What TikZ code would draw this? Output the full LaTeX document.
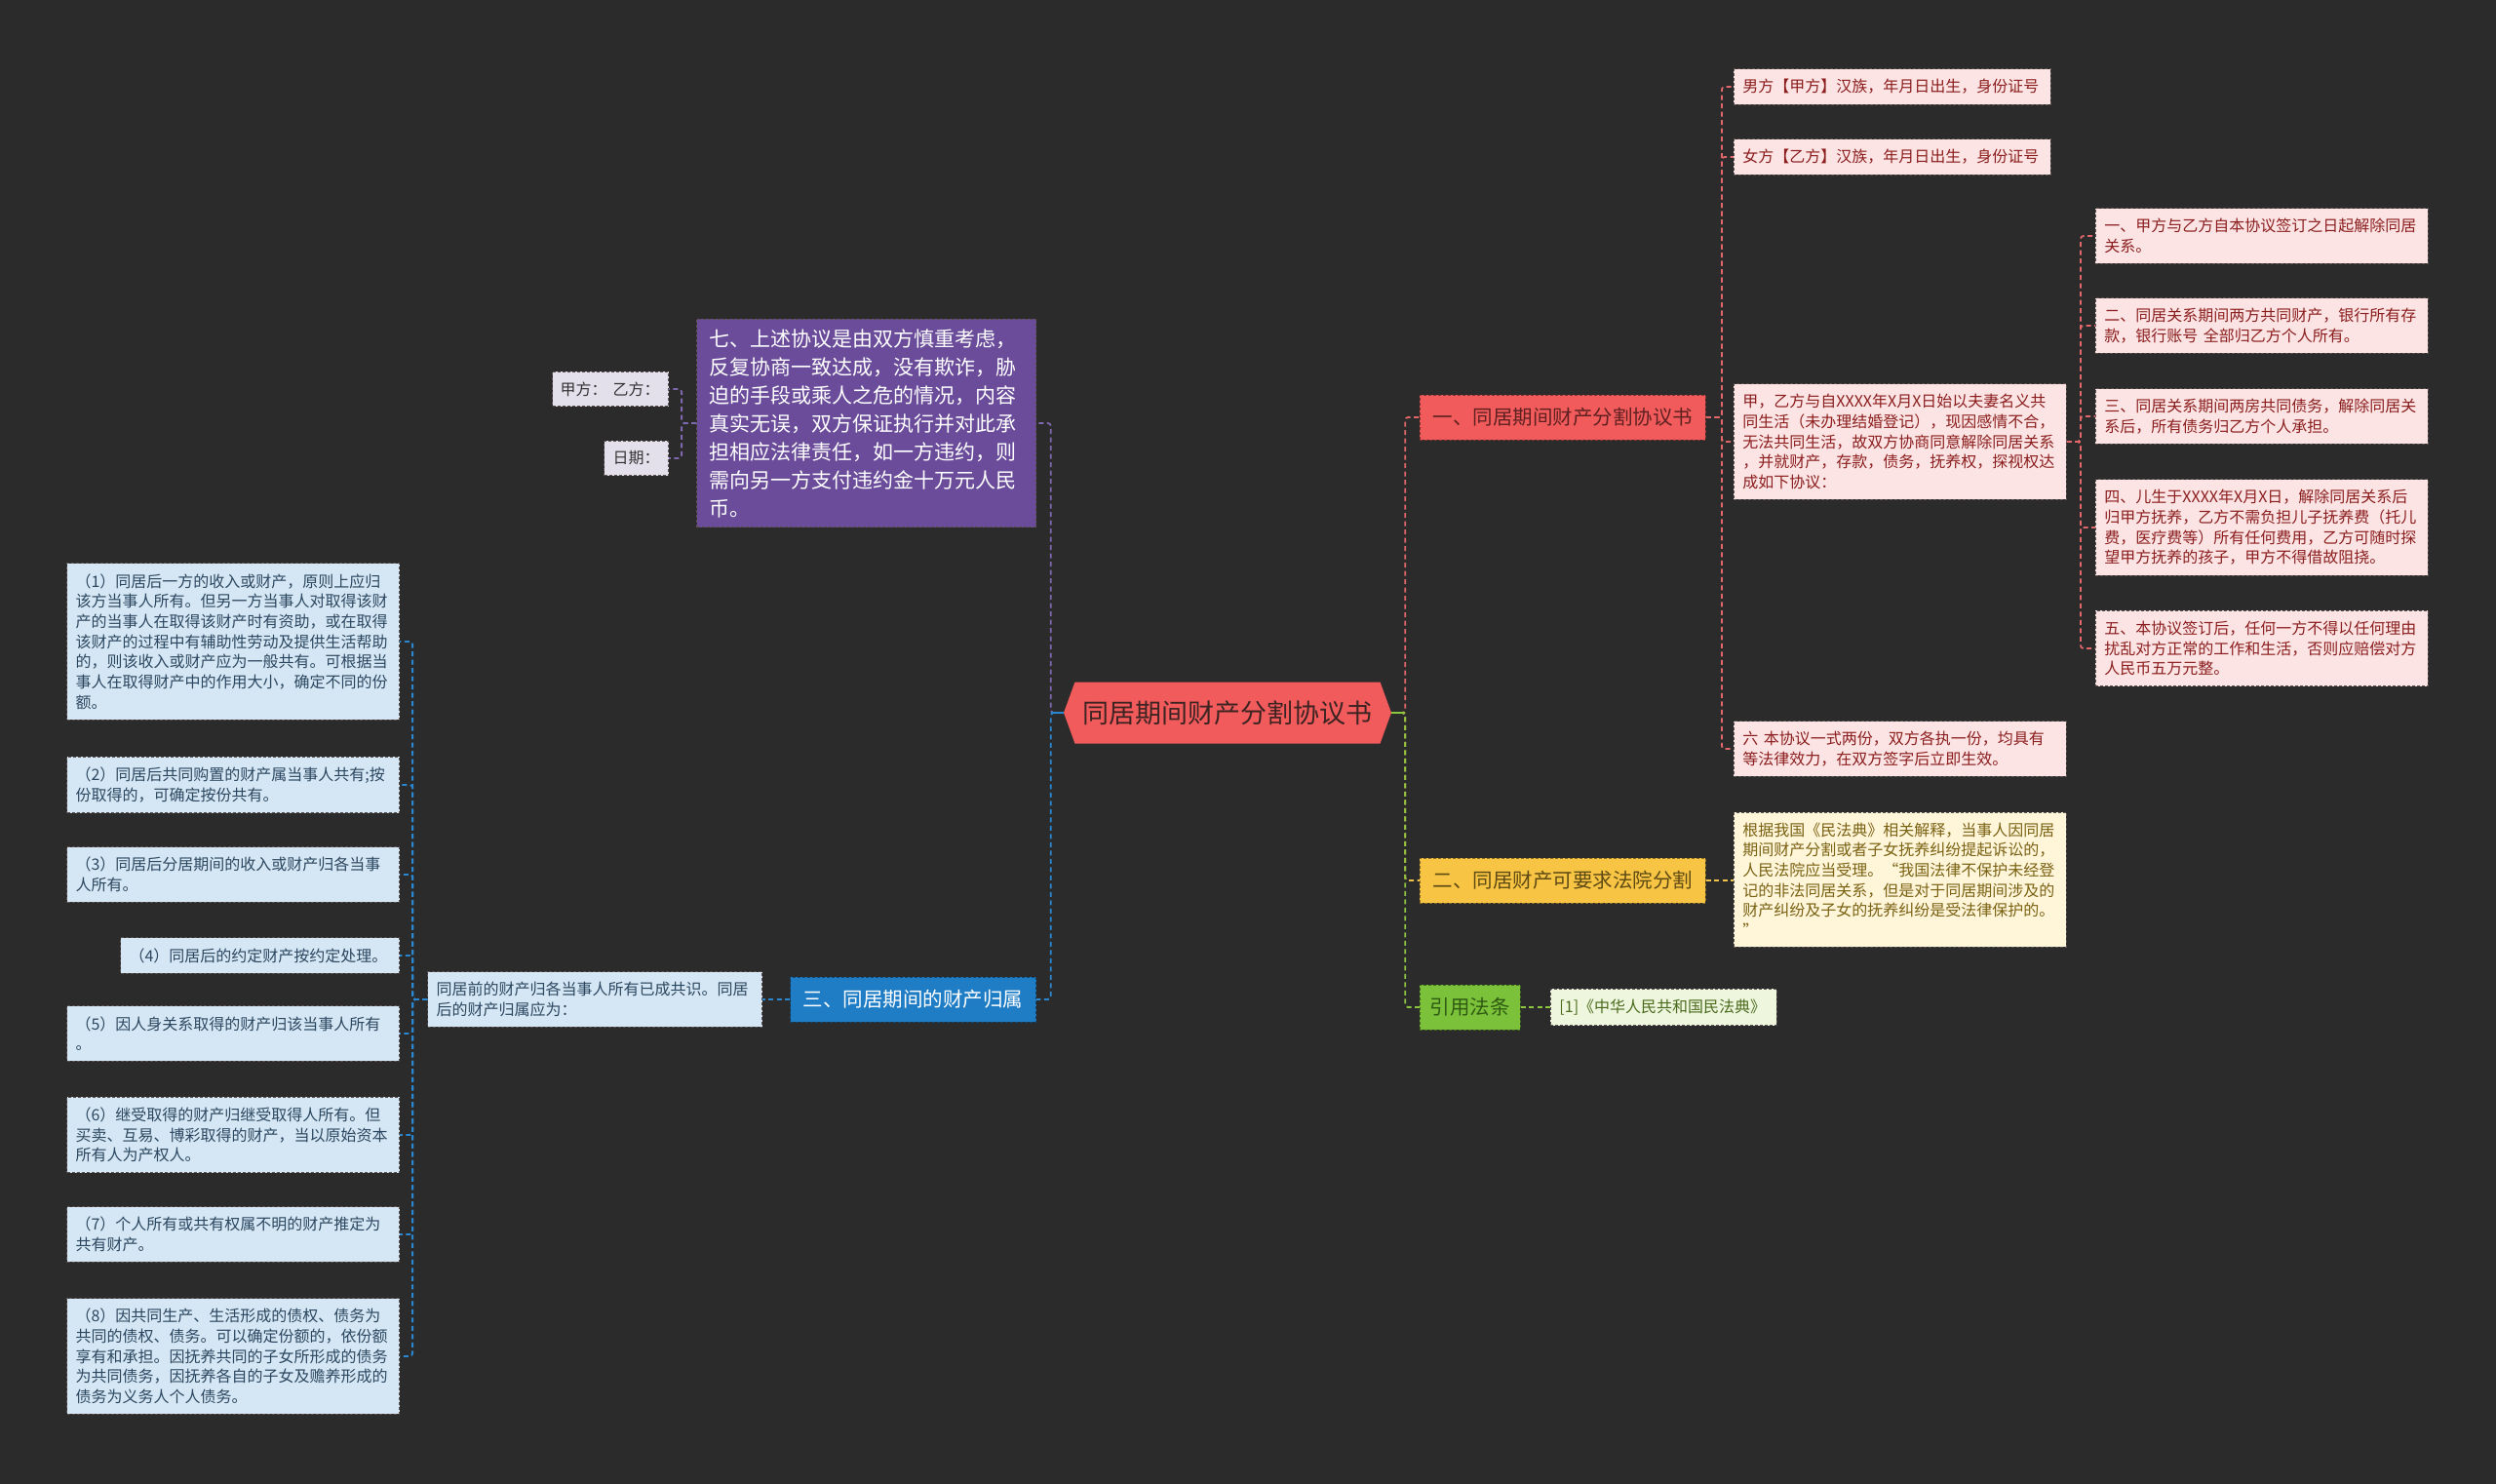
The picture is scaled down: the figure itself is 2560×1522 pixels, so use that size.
\documentclass[tikz,border=0pt]{standalone}
\usepackage{fontspec}
\setmainfont{Noto Sans CJK SC}
\usetikzlibrary{shapes.symbols}
\definecolor{bg}{HTML}{2B2B2B}
\definecolor{cen}{HTML}{F25B5B}
\definecolor{cenT}{HTML}{3E2323}
\definecolor{redB}{HTML}{F25B5B}
\definecolor{redBT}{HTML}{5E2020}
\definecolor{yelB}{HTML}{F7C443}
\definecolor{yelBT}{HTML}{5E4A14}
\definecolor{grnB}{HTML}{7CC13A}
\definecolor{grnBT}{HTML}{2F5A12}
\definecolor{purB}{HTML}{6A4C9B}
\definecolor{bluB}{HTML}{1F7DC5}
\definecolor{lred}{HTML}{FDE4E4}
\definecolor{lredT}{HTML}{8B1E1E}
\definecolor{lyel}{HTML}{FFF5D8}
\definecolor{lyelT}{HTML}{7A6214}
\definecolor{lgrn}{HTML}{EEF6DE}
\definecolor{lgrnT}{HTML}{4A6A1C}
\definecolor{lpur}{HTML}{E4E0EB}
\definecolor{lpurT}{HTML}{333333}
\definecolor{lblu}{HTML}{D5E7F4}
\definecolor{lbluT}{HTML}{2B4760}
\definecolor{bord}{HTML}{5A5050}
\definecolor{cred}{HTML}{E2676A}
\definecolor{cyel}{HTML}{EFC24A}
\definecolor{cgrn}{HTML}{8CC63F}
\definecolor{cpur}{HTML}{7F68AE}
\definecolor{cblu}{HTML}{2A88D3}
\newcommand\fsz[2]{\fontsize{#1}{#2}\selectfont}
\tikzset{
  conn/.style={line width=1.8pt, dash pattern=on 5pt off 3.5pt, rounded corners=3pt},
  boxbase/.style={draw=bord, dash pattern=on 3pt off 2pt, line width=0.9pt, inner xsep=9pt, inner ysep=10.5pt, align=left},
  leafred/.style={boxbase, fill=lred, text=lredT, font=\fsz{16}{20.7}},
  leafyel/.style={boxbase, fill=lyel, text=lyelT, font=\fsz{16}{20.7}},
  leafgrn/.style={boxbase, fill=lgrn, text=lgrnT, font=\fsz{16}{20.7}},
  leafpur/.style={boxbase, fill=lpur, text=lpurT, font=\fsz{16}{20.7}},
  leafblu/.style={boxbase, fill=lblu, text=lbluT, font=\fsz{16}{20.7}},
  branch/.style={dash pattern=on 3pt off 2pt, line width=0.9pt, minimum height=46pt, font=\fsz{20.5}{24}, align=center, inner sep=0pt},
  centre/.style={signal, signal to=west and east, signal pointer angle=140, fill=cen, draw=none, minimum width=336pt, minimum height=63pt, font=\fsz{27}{30}, text=cenT, inner sep=0pt},
}
\begin{document}
\begin{tikzpicture}[x=1pt,y=-1pt]
\useasboundingbox (0,0) rectangle (2560,1522);
\fill[bg] (0,0) rectangle (2560,1522);

% centre
\node[centre] (C) at (1259,731) {同居期间财产分割协议书};

% right branches
\node[branch, fill=redB, draw=redB!55!black, text=redBT, minimum width=293pt, anchor=west] (R) at (1456,428) {一、同居期间财产分割协议书};
\node[branch, fill=yelB, draw=yelB!55!black, text=yelBT, minimum width=293pt, anchor=west] (Y) at (1456,903) {二、同居财产可要求法院分割};
\node[branch, fill=grnB, draw=grnB!55!black, text=grnBT, minimum width=103pt, anchor=west] (G) at (1456,1033) {引用法条};

% red leaves
\node[leafred, text width=307pt, anchor=west] (R1) at (1778,89) {男方【甲方】汉族，年月日出生，身份证号};
\node[leafred, text width=307pt, anchor=west] (R2) at (1778,161) {女方【乙方】汉族，年月日出生，身份证号};
\node[leafred, text width=323pt, anchor=west] (R3) at (1778,453) {甲，乙方与自XXXX年X月X日始以夫妻名义共\\同生活（未办理结婚登记），现因感情不合，\\无法共同生活，故双方协商同意解除同居关系\\，并就财产，存款，债务，抚养权，探视权达\\成如下协议：};
\node[leafred, text width=323pt, anchor=west] (R4) at (1778,768) {六 本协议一式两份，双方各执一份，均具有\\等法律效力，在双方签字后立即生效。};

\node[leafred, text width=323pt, anchor=west] (S1) at (2149,242) {一、甲方与乙方自本协议签订之日起解除同居\\关系。};
\node[leafred, text width=323pt, anchor=west] (S2) at (2149,334) {二、同居关系期间两方共同财产，银行所有存\\款，银行账号 全部归乙方个人所有。};
\node[leafred, text width=323pt, anchor=west] (S3) at (2149,427) {三、同居关系期间两房共同债务，解除同居关\\系后，所有债务归乙方个人承担。};
\node[leafred, text width=323pt, anchor=west] (S4) at (2149,541) {四、儿生于XXXX年X月X日，解除同居关系后\\归甲方抚养，乙方不需负担儿子抚养费（托儿\\费，医疗费等）所有任何费用，乙方可随时探\\望甲方抚养的孩子，甲方不得借故阻挠。};
\node[leafred, text width=323pt, anchor=west] (S5) at (2149,665) {五、本协议签订后，任何一方不得以任何理由\\扰乱对方正常的工作和生活，否则应赔偿对方\\人民币五万元整。};

% yellow & green leaves
\node[leafyel, text width=323pt, anchor=west] (YL) at (1778,902) {根据我国《民法典》相关解释，当事人因同居\\期间财产分割或者子女抚养纠纷提起诉讼的，\\人民法院应当受理。“我国法律不保护未经登\\记的非法同居关系，但是对于同居期间涉及的\\财产纠纷及子女的抚养纠纷是受法律保护的。\\”};
\node[leafgrn, text width=214pt, anchor=west] (GL) at (1590,1033) {[1]《中华人民共和国民法典》};

% left branches
\node[boxbase, fill=purB, text=white, font=\fsz{21}{29}, inner xsep=13pt, inner ysep=10pt, text width=322pt, anchor=east] (P) at (1063,434) {七、上述协议是由双方慎重考虑，\\反复协商一致达成，没有欺诈，胁\\迫的手段或乘人之危的情况，内容\\真实无误，双方保证执行并对此承\\担相应法律责任，如一方违约，则\\需向另一方支付违约金十万元人民\\币。};
\node[branch, fill=bluB, draw=bluB!55!black, text=white, minimum width=252pt, anchor=east] (B) at (1063,1025) {三、同居期间的财产归属};

\node[leafpur, inner xsep=8pt, text width=103pt, anchor=east] (PL1) at (686,399) {甲方：\hspace{6pt}乙方：};
\node[leafpur, text width=48pt, anchor=east] (PL2) at (686,470) {日期：};

\node[leafblu, text width=325pt, anchor=east] (BL) at (782,1025) {同居前的财产归各当事人所有已成共识。同居\\后的财产归属应为：};

\node[leafblu, text width=323pt, anchor=east] (L1) at (410,658) {（1）同居后一方的收入或财产，原则上应归\\该方当事人所有。但另一方当事人对取得该财\\产的当事人在取得该财产时有资助，或在取得\\该财产的过程中有辅助性劳动及提供生活帮助\\的，则该收入或财产应为一般共有。可根据当\\事人在取得财产中的作用大小，确定不同的份\\额。};
\node[leafblu, text width=323pt, anchor=east] (L2) at (410,805) {（2）同居后共同购置的财产属当事人共有;按\\份取得的，可确定按份共有。};
\node[leafblu, text width=323pt, anchor=east] (L3) at (410,897) {（3）同居后分居期间的收入或财产归各当事\\人所有。};
\node[leafblu, text width=268pt, anchor=east] (L4) at (410,980) {（4）同居后的约定财产按约定处理。};
\node[leafblu, text width=323pt, anchor=east] (L5) at (410,1060) {（5）因人身关系取得的财产归该当事人所有\\。};
\node[leafblu, text width=323pt, anchor=east] (L6) at (410,1164) {（6）继受取得的财产归继受取得人所有。但\\买卖、互易、博彩取得的财产，当以原始资本\\所有人为产权人。};
\node[leafblu, text width=323pt, anchor=east] (L7) at (410,1266) {（7）个人所有或共有权属不明的财产推定为\\共有财产。};
\node[leafblu, text width=323pt, anchor=east] (L8) at (410,1391) {（8）因共同生产、生活形成的债权、债务为\\共同的债权、债务。可以确定份额的，依份额\\享有和承担。因抚养共同的子女所形成的债务\\为共同债务，因抚养各自的子女及赡养形成的\\债务为义务人个人债务。};

% connectors: centre
\draw[conn, cred] (C.east) -- ++(14,0) |- (R.west);
\draw[conn, cyel] (C.east) -- ++(14,0) |- (Y.west);
\draw[conn, cgrn] (C.east) -- ++(14,0) |- (G.west);
\draw[line width=1.8pt, cgrn] (C.east) -- ++(14,0);
\draw[conn, cpur] (C.west) -- ++(-13,0) |- (P.east);
\draw[conn, cblu] (C.west) -- ++(-13,0) |- (B.east);
\draw[line width=1.8pt, cblu] (C.west) -- ++(-13,0);

% red
\foreach \n in {R1,R2,R3,R4} \draw[conn, cred] (R.east) -- ++(16,0) |- (\n.west);
\foreach \n in {S1,S2,S3,S4,S5} \draw[conn, cred] (R3.east) -- ++(14,0) |- (\n.west);
% yellow, green
\draw[conn, cyel] (Y.east) -- (YL.west |- Y.east);
\draw[conn, cgrn] (G.east) -- (GL.west);
% purple
\foreach \n in {PL1,PL2} \draw[conn, cpur] (P.west) -- ++(-15,0) |- (\n.east);
% blue
\draw[conn, cblu] (B.west) -- (BL.east);
\foreach \n in {L1,L2,L3,L4,L5,L6,L7,L8} \draw[conn, cblu] (BL.west) -- ++(-15,0) |- (\n.east);
\end{tikzpicture}
\end{document}
